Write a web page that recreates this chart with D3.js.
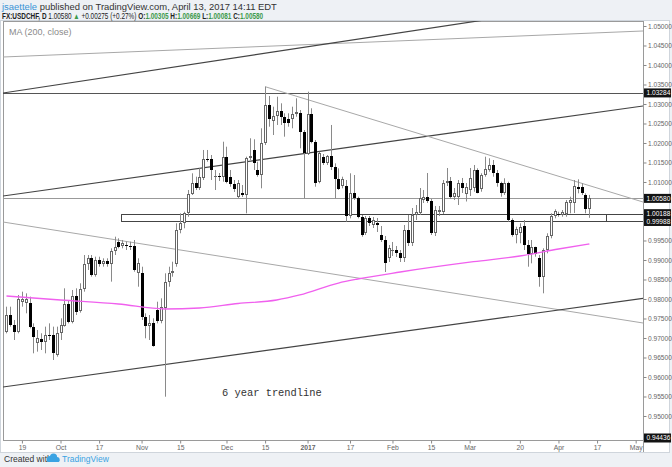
<!DOCTYPE html>
<html><head><meta charset="utf-8">
<script src="https://cdn.jsdelivr.net/npm/d3@7"></script>
<style>body{margin:0;background:#eef1f5;}svg{display:block;}</style>
</head><body>
<svg id="chart" width="672" height="467"></svg>
<script>
// ---------- DATA ----------
const symbol = "FX:USDCHF, D";
const open = [
.97162,.97590,.97333,.97162,.97932,.97889,.97889,.97291,.96880,.96966,
.96906,.97077,.97077,.96564,.97120,.97308,.97872,.97419,.98077,.97700,
.98248,.98889,.99043,.98615,.99000,.98897,.98983,.98897,.99239,.99470,
.99367,.99392,.99367,.99359,.98674,.98674,.97531,.97308,.97392,.97718,
.97444,.97780,.98444,.98659,.98897,.99769,.99941,1.00197,1.00692,1.00982,
1.00838,1.01095,1.01582,1.01582,1.01120,1.01154,1.01136,1.01633,1.01136,1.00949,
1.00623,1.00726,1.00667,1.01615,1.01821,1.01308,1.01179,1.01992,1.02974,1.02572,
1.02692,1.02828,1.02659,1.02608,1.02608,1.02744,1.02777,1.02290,1.01718,1.02744,
1.02033,1.01008,1.01649,1.01479,1.01667,1.01377,1.01069,1.00897,1.00897,1.00128,
1.00710,1.00582,1.00110,.99685,1.00069,.99897,.99958,.99641,.99513,.99044,
.99231,.99256,.99179,.99044,.99769,.99436,1.00154,1.00213,1.00538,1.00623,
1.00513,.99685,1.00238,1.00238,1.00967,1.01033,1.00623,1.00623,1.00967,1.00700,
1.00795,1.00838,1.01308,1.00813,1.01179,1.01308,1.01436,1.01223,1.00967,1.00710,
1.00982,1.00026,.99641,.99685,.99872,.99385,.99154,.99326,.99051,.98556,
.99256,.99615,1.00128,1.00179,1.00154,1.00179,1.00454,1.00469,1.00879,1.00864,
1.00667,1.00305];
const high = [
.97803,.97803,.97462,.98103,.98188,.98145,.98060,.97376,.97205,.97120,
.97291,.97376,.97291,.97291,.97504,.98274,.97974,.98231,.98274,.98402,
.99128,.99128,.99128,.99085,.99085,.99043,.99043,.99299,.99598,.99556,
.99513,.99469,.99469,.99513,.99044,.98828,.97633,.97590,.97505,.97931,
.98018,.98659,.98828,.98956,.99941,1.00197,1.00238,1.00795,1.01223,1.01136,
1.01351,1.01821,1.01821,1.01692,1.01308,1.01231,1.02033,1.01905,1.01308,1.01051,
1.01051,1.00923,1.01649,1.02121,1.02095,1.01520,1.02377,1.03444,1.03205,1.02931,
1.03187,1.03018,1.02762,1.02762,1.02931,1.03146,1.02846,1.02333,1.03315,1.02890,
1.02077,1.01777,1.01718,1.01692,1.02462,1.01479,1.01351,1.01136,1.01051,1.01223,
1.01179,1.00623,1.00154,1.00128,1.00128,1.00103,1.00077,.99872,.99615,.99385,
.99462,.99359,.99256,.99897,1.00154,1.00333,1.00410,1.00846,1.00795,1.01231,
1.00564,1.00385,1.00385,1.01051,1.01359,1.01128,1.00846,1.01051,1.01103,1.00974,
1.01359,1.01436,1.01351,1.01223,1.01649,1.01608,1.01564,1.01308,1.01008,1.01095,
1.01008,1.00069,.99854,.99941,1.00026,.99513,.99513,.99341,.99128,.99300,
.99685,1.00197,1.00300,1.00238,1.00282,1.00538,1.00623,1.01051,1.01069,1.00967,
1.00710,1.00669];
const low = [
.97120,.97291,.96949,.97120,.97803,.97633,.97248,.96607,.96650,.96692,
.96607,.96949,.96436,.96521,.96949,.97291,.97376,.97376,.97590,.97650,
.98188,.98744,.98573,.98573,.98829,.98829,.98829,.98445,.99128,.99299,
.99300,.99256,.99256,.98700,.98315,.97462,.96992,.96949,.96777,.97377,
.97377,.95495,.98315,.98572,.98828,.99685,.99813,1.00110,1.00667,1.00795,
1.00795,1.01051,1.01520,1.01051,1.00795,1.01026,1.01008,1.00967,1.00879,1.00744,
1.00590,1.00615,1.00197,1.01564,1.01308,1.01136,1.00838,1.01949,1.02418,1.02205,
1.02462,1.02462,1.02162,1.02418,1.02377,1.02674,1.01864,1.00582,1.01692,1.01992,
1.00879,1.00967,1.01436,1.01436,1.01308,1.00582,1.00795,1.00838,.99982,1.00069,
1.00538,1.00069,.99597,.99641,.99872,.99821,.99718,.99462,.98692,.98949,
.99103,.99077,.98949,.98949,.99359,.99359,1.00026,1.00154,1.00462,1.00462,
.99641,.99615,1.00128,1.00179,1.00897,1.00564,1.00538,1.00410,1.00718,1.00500,
1.00641,1.00751,1.00710,1.00751,1.01136,1.01264,1.01136,1.00879,1.00623,1.00667,
.99982,.99597,.99428,.99428,.99256,.98828,.98915,.99085,.98315,.98146,
.99172,.99556,1.00069,1.00110,1.00110,1.00110,1.00197,1.00205,1.00710,1.00667,
1.00197,1.00081];
const close = [
.97590,.97333,.97162,.97991,.97991,.97991,.97291,.97034,.96991,.96906,
.97077,.97060,.96607,.97120,.97333,.97872,.97419,.98077,.97675,.98248,
.98889,.99043,.98615,.99000,.98897,.98983,.98897,.99239,.99342,.99342,
.99428,.99359,.99341,.98744,.98915,.97531,.97308,.97392,.96795,.97444,
.97803,.98444,.98659,.98718,.99769,.99941,1.00197,1.00692,1.00967,1.00838,
1.01136,1.01582,1.01564,1.01308,1.01154,1.01128,1.01633,1.01008,1.00949,1.00813,
1.00967,1.00667,1.01608,1.01667,1.01495,1.01179,1.01992,1.02974,1.02608,1.02692,
1.02828,1.02674,1.02505,1.02521,1.02744,1.02795,1.02290,1.01736,1.02744,1.02033,
1.00967,1.01736,1.01479,1.01667,1.01377,1.01069,1.00813,1.01069,1.00128,1.00726,
1.00582,1.00110,.99641,1.00069,.99941,1.00026,.99897,.99513,.98923,.99300,
.99269,.99179,.99044,.99769,.99428,1.00154,1.00238,1.00582,1.00623,1.00521,
.99685,1.00282,1.00282,1.00982,1.01033,1.00623,1.00710,1.00967,1.00838,1.00879,
1.01103,1.01308,1.00726,1.01179,1.01326,1.01436,1.01223,1.00967,1.00710,1.00982,
1.00026,.99641,.99787,.99854,.99385,.99154,.99326,.99154,.98556,.99256,
.99615,1.00128,1.00256,1.00146,1.00238,1.00495,1.00538,1.00897,1.00813,1.00710,
1.00305,1.00580];

// 200-day moving average read at selected bars
const maBar = [0,14,29,41,50,60,70,76,86,91,102,121,133,143,151];
const maVal = [.98077,.97974,.97872,.97744,.97769,.97885,.97974,.98103,.98410,.98513,.98692,.98956,.99103,.99282,.99410];

// drawn annotations: [bar position, price]
const trendTopGray   = [[-0.9,1.04205],[164.9,1.04872]];
const trendTopDark   = [[-0.9,1.03282],[164.9,1.05772]];
const trendMidDark   = [[-0.9,1.00641],[164.9,1.02949]];
const trendPeakGray  = [[67,1.03444],[164.9,1.00487]];
const trendLowGray   = [[-0.9,0.99974],[164.9,0.97385]];
const trendSixYear   = [[-0.9,0.95744],[164.9,0.98018]];
const hLineDark = 1.03284;
const hLineLast = 1.00580;
const zoneTop = 1.00188, zoneBottom = 0.99988, zoneStart = 29.7, zoneEnd = 155.3;
const priceTicks = [1.05,1.045,1.04,1.035,1.03,1.025,1.02,1.015,1.01,1.005,1.0,0.995,0.99,0.985,0.98,0.975,0.97,0.965,0.96,0.955,0.95,0.945];
const priceBadges = [1.03284,1.00580,1.00188,0.99988,0.94436];
const timeTicks = [["2016-09-19","19"],["2016-10-03","Oct"],["2016-10-17","17"],["2016-11-01","Nov"],["2016-11-15","15"],["2016-12-01","Dec"],["2016-12-15","15"],["2017-01-02","2017"],["2017-01-17","17"],["2017-02-01","Feb"],["2017-02-15","15"],["2017-03-01","Mar"],["2017-03-20","20"],["2017-04-03","Apr"],["2017-04-17","17"],["2017-05-01","May"]];
const skippedDays = ["2016-12-26"];

// trading-day calendar (weekdays)
const days = [];
{ let d = new Date(Date.UTC(2016,8,13)); const end = new Date(Date.UTC(2017,4,5));
  while (d <= end) { const s = d.toISOString().slice(0,10), wd = d.getUTCDay();
    if (wd !== 0 && wd !== 6 && !skippedDays.includes(s)) days.push(s);
    d = new Date(d.getTime() + 86400000); } }
const bars = open.map((o,i)=>({i, date:days[i], o, h:high[i], l:low[i], c:close[i]}));

// ---------- LAYOUT ----------
const svg = d3.select("#chart");
const L=3, R=643, T=21, B=440;
const x = d3.scaleLinear().domain([-0.9,164.9]).range([L,R]);
const y = d3.scaleLinear().domain([0.943846,1.051282]).range([B,T]);
const font = "'Liberation Sans', Arial, sans-serif";

// backgrounds
svg.append("rect").attr("x",0).attr("y",0).attr("width",672).attr("height",467).attr("fill","#eef1f5");
svg.append("rect").attr("x",0.5).attr("y",20.5).attr("width",669).attr("height",432).attr("fill","#fff").attr("stroke","#cfd5dc");

// header (each line measured, then fitted horizontally)
function fitLine(sel, targetW, tx, ty){
  const w = sel.node().getComputedTextLength();
  sel.attr("x",0).attr("y",0).attr("transform",`translate(${tx},${ty}) scale(${targetW/w},1)`);
}
const h1 = svg.append("text").attr("font-family",font).attr("font-size",9.6).attr("fill","#333");
h1.append("tspan").attr("fill","#3a93d6").text("jsaettele");
h1.append("tspan").text(" published on TradingView.com, April 13, 2017 14:11 EDT");
fitLine(h1, 275, 2, 9.5);

const h2 = svg.append("text").attr("font-family",font).attr("font-size",8.2).attr("fill","#222");
const green = "#3c9a4c";
h2.append("tspan").attr("font-weight","bold").text(symbol);
h2.append("tspan").text(" " + d3.format(".5f")(close[close.length-1]) + " ");
h2.append("tspan").attr("fill",green).text("\u25B2");
const chg = close[close.length-1]-close[close.length-2];
h2.append("tspan").text(" +" + d3.format(".5f")(chg) + " (+" + d3.format(".2f")(chg/close[close.length-2]*100) + "%) ");
const last = bars[bars.length-1];
[["O:",last.o],["H:",last.h],["L:",last.l],["C:",last.c]].forEach(([k,v],j)=>{
  h2.append("tspan").attr("font-weight","bold").text((j?" ":"")+k);
  h2.append("tspan").attr("font-weight","bold").attr("fill",green).text(d3.format(".5f")(v));
});
fitLine(h2, 261, 2, 18.5);

// pane
svg.append("defs").append("clipPath").attr("id","pane").append("rect").attr("x",L).attr("y",T).attr("width",R-L).attr("height",B-T);
svg.append("rect").attr("x",L+0.5).attr("y",T+0.5).attr("width",R-L).attr("height",B-T).attr("fill","none").attr("stroke","#9a9a9a");
svg.append("text").attr("x",9).attr("y",35).attr("font-family",font).attr("font-size",9).attr("fill","#8a8a8a").text("MA (200, close)");

const g = svg.append("g").attr("clip-path","url(#pane)");
const seg = (pts, color, w) => g.append("line")
  .attr("x1",x(pts[0][0])).attr("y1",y(pts[0][1])).attr("x2",x(pts[1][0])).attr("y2",y(pts[1][1]))
  .attr("stroke",color).attr("stroke-width",w);

// horizontal lines and zone
g.append("line").attr("x1",L).attr("x2",R).attr("y1",Math.round(y(hLineDark))+0.5).attr("y2",Math.round(y(hLineDark))+0.5).attr("stroke","#555").attr("stroke-width",1);
g.append("line").attr("x1",L).attr("x2",R).attr("y1",Math.round(y(hLineLast))+0.5).attr("y2",Math.round(y(hLineLast))+0.5).attr("stroke","#999").attr("stroke-width",1);
[zoneTop,zoneBottom].forEach(v=>g.append("line").attr("x1",x(zoneStart)).attr("x2",R)
  .attr("y1",Math.round(y(v))+0.5).attr("y2",Math.round(y(v))+0.5).attr("stroke","#444").attr("stroke-width",1));
[zoneStart,zoneEnd].forEach(b=>g.append("line").attr("x1",Math.round(x(b))+0.5).attr("x2",Math.round(x(b))+0.5)
  .attr("y1",Math.round(y(zoneTop))+0.5).attr("y2",Math.round(y(zoneBottom))+0.5).attr("stroke","#444"));

// trend lines
seg(trendTopGray,"#a8a8a8",1);
seg(trendTopDark,"#444",1.2);
seg(trendMidDark,"#444",1.2);
seg(trendPeakGray,"#a8a8a8",1);
seg(trendLowGray,"#a8a8a8",1);
seg(trendSixYear,"#444",1.2);

// candles
const cg = g.append("g");
bars.forEach(b=>{
  const cx = Math.round(x(b.i));
  cg.append("line").attr("x1",cx+0.5).attr("x2",cx+0.5).attr("y1",y(b.h)).attr("y2",y(b.l)).attr("stroke","#8a8a8a").attr("stroke-width",1);
});
bars.forEach(b=>{
  const cx = Math.round(x(b.i));
  const top = Math.round(y(Math.max(b.o,b.c))), bot = Math.round(y(Math.min(b.o,b.c)));
  const hgt = Math.max(bot-top,1);
  if (b.c >= b.o) {
    cg.append("rect").attr("x",cx-0.5).attr("y",top+0.5).attr("width",2).attr("height",Math.max(hgt-1,0.01))
      .attr("fill","#fff").attr("stroke","#666").attr("stroke-width",1);
  } else {
    cg.append("rect").attr("x",cx-1).attr("y",top).attr("width",3).attr("height",Math.max(hgt,1)).attr("fill","#000");
  }
});

// MA line
g.append("path").datum(maBar.map((b,k)=>[b,maVal[k]]))
  .attr("d",d3.line().x(d=>x(d[0])).y(d=>y(d[1])).curve(d3.curveMonotoneX))
  .attr("fill","none").attr("stroke","#f060ee").attr("stroke-width",1.3);

// annotation text
svg.append("text").attr("x",222).attr("y",395.5).attr("font-family","'Liberation Mono','DejaVu Sans Mono',monospace")
  .attr("font-size",10.4).attr("fill","#333").text("6 year trendline");

// right price axis
const shown = priceTicks.filter(v=>priceBadges.every(b=>Math.abs(y(b)-y(v))>6));
const ya = svg.append("g").attr("transform",`translate(${R+0.5},0)`)
  .call(d3.axisRight(y).tickValues(shown).tickSize(3).tickPadding(1.5).tickFormat(d3.format(".5f")));
ya.select(".domain").attr("stroke","#9a9a9a").attr("d",`M0,${T}V${B+12}`);
ya.selectAll(".tick line").attr("stroke","#888");
ya.selectAll(".tick text").attr("font-family",font).attr("font-size",6.6).attr("fill","#666");
priceBadges.forEach(v=>{
  const yy = y(v);
  svg.append("rect").attr("x",R+1).attr("y",yy-4.5).attr("width",27).attr("height",9).attr("fill","#131313");
  svg.append("text").attr("x",R+3.5).attr("y",yy).attr("dy","0.35em").attr("font-family",font).attr("font-size",6.6)
    .attr("fill","#fff").text(d3.format(".5f")(v));
});

// bottom time axis
const tickIdx = timeTicks.map(t=>days.indexOf(t[0]));
const xa = svg.append("g").attr("transform",`translate(0,${B+0.5})`)
  .call(d3.axisBottom(x).tickValues(tickIdx).tickSize(3).tickPadding(2).tickFormat((d,k)=>timeTicks[k][1]));
xa.select(".domain").attr("stroke","#9a9a9a").attr("d",`M${L},0H${R}`);
xa.selectAll(".tick line").attr("stroke","#888");
xa.selectAll(".tick text").attr("font-family",font).attr("font-size",6.8).attr("fill","#666")
  .attr("font-weight",(d,k)=>timeTicks[k][1]==="2017"?"bold":"normal");
svg.append("line").attr("x1",L).attr("x2",R).attr("y1",452.5).attr("y2",452.5).attr("stroke","#cfd5dc");

// footer
svg.append("text").attr("x",4).attr("y",462).attr("font-family",font).attr("font-size",8.5).attr("fill","#333").text("Created with");
const logo = svg.append("g").attr("fill","#3aa3e3");
[[50,459,3],[53.5,457,3.6],[57,459.5,2.6]].forEach(c=>logo.append("circle").attr("cx",c[0]).attr("cy",c[1]).attr("r",c[2]));
logo.append("rect").attr("x",47).attr("y",459).attr("width",12.5).attr("height",3).attr("rx",1.5);
svg.append("text").attr("x",62).attr("y",462).attr("font-family",font).attr("font-size",8.5).attr("fill","#3aa3e3").text("TradingView");
</script>
</body></html>
